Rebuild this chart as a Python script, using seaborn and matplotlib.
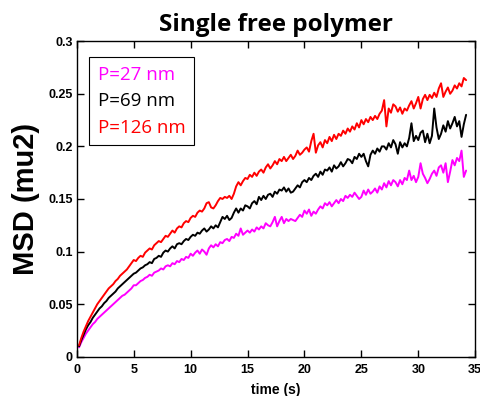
import numpy as np
import pandas as pd
import matplotlib
matplotlib.use("Agg")
import matplotlib.pyplot as plt
import seaborn as sns

sns.set_style("ticks")
plt.rcParams['font.family'] = ['Liberation Sans', 'DejaVu Sans']
plt.rcParams['text.color'] = 'black'
plt.rcParams['axes.labelcolor'] = 'black'
plt.rcParams['xtick.color'] = 'black'
plt.rcParams['ytick.color'] = 'black'

labels = ["P=27 nm", "P=69 nm", "P=126 nm"]
colors = ["#ff00ff", "#000000", "#ff0000"]

# sampled every 0.2 s, 0.2 ... 34.2
time_s = np.round(np.arange(1, 172) * 0.2, 1)

msd_27 = [
    0.009, 0.014, 0.018, 0.022, 0.025, 0.028, 0.031, 0.033, 0.036, 0.038,
    0.040, 0.042, 0.044, 0.046, 0.048, 0.050, 0.052, 0.054, 0.056, 0.058,
    0.059, 0.061, 0.063, 0.065, 0.068, 0.068, 0.070, 0.072, 0.073, 0.075,
    0.076, 0.078, 0.077, 0.080, 0.081, 0.082, 0.084, 0.083, 0.086, 0.087,
    0.086, 0.089, 0.088, 0.091, 0.090, 0.093, 0.092, 0.095, 0.094, 0.098,
    0.096, 0.099, 0.101, 0.098, 0.102, 0.100, 0.097, 0.103, 0.106, 0.104,
    0.107, 0.105, 0.109, 0.108, 0.111, 0.112, 0.110, 0.114, 0.113, 0.117,
    0.115, 0.122, 0.116, 0.118, 0.120, 0.118, 0.121, 0.119, 0.123, 0.121,
    0.124, 0.122, 0.127, 0.125, 0.124, 0.128, 0.133, 0.124, 0.129, 0.133,
    0.127, 0.131, 0.129, 0.131, 0.130, 0.129, 0.132, 0.135, 0.133, 0.139,
    0.136, 0.140, 0.134, 0.138, 0.136, 0.140, 0.143, 0.141, 0.146, 0.144,
    0.147, 0.143, 0.146, 0.149, 0.146, 0.150, 0.148, 0.153, 0.151, 0.154,
    0.152, 0.156, 0.153, 0.150, 0.152, 0.158, 0.154, 0.159, 0.155, 0.157,
    0.160, 0.156, 0.162, 0.159, 0.165, 0.161, 0.167, 0.163, 0.168, 0.166,
    0.162, 0.168, 0.164, 0.170, 0.168, 0.177, 0.168, 0.172, 0.166, 0.171,
    0.184, 0.174, 0.170, 0.165, 0.169, 0.174, 0.177, 0.172, 0.180, 0.182,
    0.175, 0.184, 0.166, 0.176, 0.187, 0.182, 0.189, 0.186, 0.196, 0.171,
    0.177,
]

msd_69 = [
    0.010, 0.016, 0.021, 0.026, 0.030, 0.033, 0.037, 0.040, 0.043, 0.046,
    0.048, 0.051, 0.053, 0.056, 0.058, 0.060, 0.062, 0.065, 0.067, 0.069,
    0.071, 0.073, 0.075, 0.077, 0.079, 0.080, 0.082, 0.084, 0.085, 0.087,
    0.088, 0.090, 0.089, 0.093, 0.094, 0.096, 0.095, 0.099, 0.101, 0.100,
    0.103, 0.105, 0.103, 0.107, 0.108, 0.107, 0.110, 0.112, 0.111, 0.114,
    0.116, 0.115, 0.118, 0.117, 0.120, 0.122, 0.119, 0.121, 0.124, 0.122,
    0.125, 0.123, 0.128, 0.133, 0.131, 0.134, 0.130, 0.132, 0.137, 0.141,
    0.137, 0.141, 0.139, 0.144, 0.143, 0.141, 0.146, 0.148, 0.145, 0.152,
    0.149, 0.153, 0.150, 0.154, 0.155, 0.152, 0.157, 0.155, 0.159, 0.158,
    0.161, 0.157, 0.160, 0.156, 0.157, 0.160, 0.163, 0.161, 0.166, 0.168,
    0.166, 0.170, 0.168, 0.172, 0.174, 0.171, 0.176, 0.173, 0.178, 0.177,
    0.180, 0.176, 0.182, 0.179, 0.181, 0.185, 0.181, 0.184, 0.188, 0.187,
    0.184, 0.190, 0.188, 0.193, 0.190, 0.193, 0.186, 0.181, 0.192, 0.196,
    0.193, 0.198, 0.195, 0.200, 0.200, 0.197, 0.203, 0.199, 0.206, 0.202,
    0.193, 0.204, 0.199, 0.203, 0.200, 0.208, 0.222, 0.205, 0.210, 0.206,
    0.213, 0.215, 0.204, 0.212, 0.203, 0.210, 0.236, 0.218, 0.207, 0.212,
    0.220, 0.214, 0.224, 0.217, 0.222, 0.228, 0.219, 0.224, 0.209, 0.221,
    0.230,
]

msd_126 = [
    0.011, 0.018, 0.024, 0.029, 0.034, 0.038, 0.042, 0.046, 0.050, 0.053,
    0.056, 0.059, 0.062, 0.065, 0.067, 0.069, 0.072, 0.074, 0.077, 0.079,
    0.081, 0.083, 0.086, 0.089, 0.092, 0.091, 0.094, 0.096, 0.095, 0.099,
    0.101, 0.103, 0.102, 0.106, 0.108, 0.110, 0.109, 0.112, 0.115, 0.114,
    0.117, 0.120, 0.118, 0.122, 0.124, 0.123, 0.127, 0.129, 0.128, 0.132,
    0.134, 0.133, 0.137, 0.139, 0.138, 0.141, 0.146, 0.147, 0.142, 0.141,
    0.144, 0.148, 0.151, 0.150, 0.152, 0.151, 0.153, 0.150, 0.155, 0.162,
    0.166, 0.163, 0.167, 0.170, 0.169, 0.173, 0.171, 0.175, 0.172, 0.176,
    0.178, 0.175, 0.180, 0.183, 0.179, 0.182, 0.186, 0.183, 0.188, 0.186,
    0.190, 0.186, 0.189, 0.192, 0.188, 0.191, 0.196, 0.192, 0.194, 0.197,
    0.199, 0.195, 0.205, 0.212, 0.194, 0.201, 0.204, 0.199, 0.206, 0.203,
    0.209, 0.205, 0.211, 0.207, 0.212, 0.210, 0.215, 0.212, 0.217, 0.214,
    0.219, 0.216, 0.222, 0.218, 0.225, 0.221, 0.226, 0.223, 0.228, 0.225,
    0.229, 0.226, 0.231, 0.234, 0.244, 0.219, 0.236, 0.232, 0.240, 0.238,
    0.233, 0.237, 0.231, 0.236, 0.234, 0.239, 0.243, 0.236, 0.241, 0.247,
    0.236, 0.245, 0.249, 0.244, 0.249, 0.246, 0.251, 0.247, 0.255, 0.260,
    0.247, 0.252, 0.256, 0.250, 0.253, 0.258, 0.255, 0.260, 0.257, 0.265,
    0.263,
]

df = pd.DataFrame({
    "time": np.tile(time_s, 3),
    "msd": msd_27 + msd_69 + msd_126,
    "P": np.repeat(labels, len(time_s)),
})

fig = plt.figure(figsize=(4.8, 3.96), dpi=100)
ax = fig.add_axes([0.160, 0.099, 0.830, 0.797])

sns.lineplot(data=df, x="time", y="msd", hue="P", hue_order=labels,
             palette=colors, linewidth=1.4, ax=ax, legend=False)

ax.set_xlim(0, 35)
ax.set_ylim(0, 0.3)
ax.set_xticks(range(0, 36, 5))
ax.set_yticks([0, 0.05, 0.1, 0.15, 0.2, 0.25, 0.3])
ax.set_yticklabels(["0", "0.05", "0.1", "0.15", "0.2", "0.25", "0.3"])
ax.tick_params(direction="in", top=True, right=True, length=5, width=1,
               labelsize=9, colors="black")
ax.tick_params(axis="x", pad=5)
ax.tick_params(axis="y", pad=3)
for lab in ax.get_xticklabels() + ax.get_yticklabels():
    lab.set_fontweight("bold")
for sp in ax.spines.values():
    sp.set_visible(True)
    sp.set_linewidth(1)
    sp.set_color("black")

ax.set_xlabel("time (s)", fontsize=10, fontweight="bold", labelpad=5)
ax.set_ylabel("MSD (mu2)", fontsize=21, fontweight="bold", labelpad=6)
ax.set_title("Single free polymer", fontsize=17.5, fontweight="bold",
             family=["Open Sans", "DejaVu Sans"], pad=7)

# legend: coloured text only, no line handles
handles = [plt.Line2D([], [], color=c, linewidth=0) for c in colors]
leg = ax.legend(handles, labels, loc="upper left", bbox_to_anchor=(0.031, 0.949),
                borderaxespad=0, handlelength=0, handletextpad=0, fancybox=False,
                edgecolor="black", framealpha=1, borderpad=0.45, labelspacing=0.45,
                prop={"family": ["Open Sans", "DejaVu Sans"], "size": 13.5})
leg.get_frame().set_linewidth(0.8)
for txt, c in zip(leg.get_texts(), colors):
    txt.set_color(c)

fig.savefig("out.png", dpi=100)
